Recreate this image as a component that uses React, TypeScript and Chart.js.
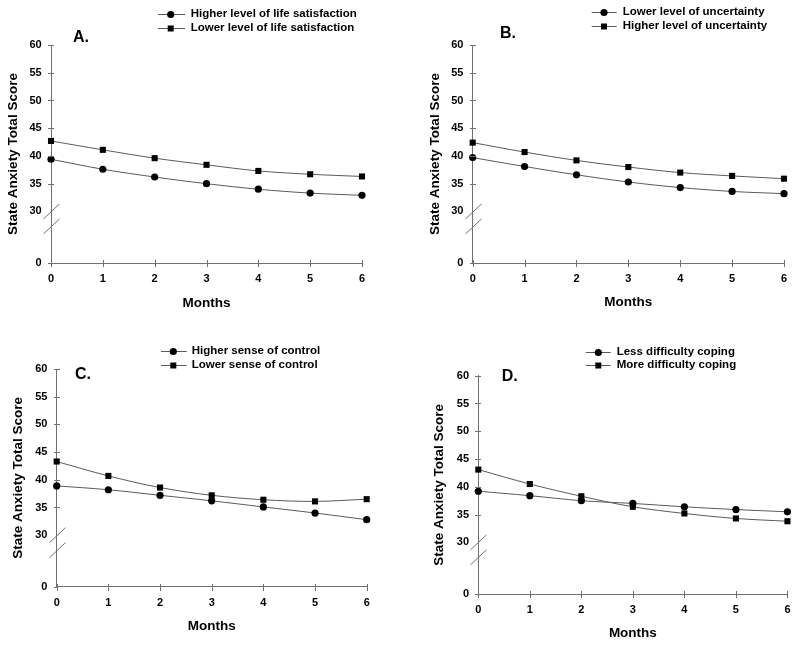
import React, { useEffect, useRef } from 'react';
import { Chart, registerables } from 'chart.js';

Chart.register(...registerables);

// ---------- data ----------
const months = ['0', '1', '2', '3', '4', '5', '6'];
const yTickLabels = [0, 30, 35, 40, 45, 50, 55, 60];
const yTitle = 'State Anxiety Total Score';
const xTitle = 'Months';
const panelLetters = ['A.', 'B.', 'C.', 'D.'];

const lifeSatHigher = [39.4, 37.6, 36.2, 35.0, 34.0, 33.3, 32.9];
const lifeSatLower = [42.7, 41.1, 39.6, 38.4, 37.3, 36.7, 36.3];
const uncertLower = [39.7, 38.1, 36.6, 35.3, 34.3, 33.6, 33.2];
const uncertHigher = [42.4, 40.7, 39.2, 38.0, 37.0, 36.4, 35.9];
const controlHigher = [38.9, 38.2, 37.2, 36.2, 35.1, 34.0, 32.8];
const controlLower = [43.3, 40.7, 38.6, 37.2, 36.4, 36.1, 36.5];
const copingLess = [39.2, 38.4, 37.5, 37.0, 36.4, 35.9, 35.5];
const copingMore = [43.1, 40.5, 38.3, 36.4, 35.2, 34.3, 33.8];

const legendA = ['Higher level of life satisfaction', 'Lower level of life satisfaction'];
const legendB = ['Lower level of uncertainty', 'Higher level of uncertainty'];
const legendC = ['Higher sense of control', 'Lower sense of control'];
const legendD = ['Less difficulty coping', 'More difficulty coping'];

// ---------- styling / layout ----------
const FONT = '"Liberation Sans", Arial, Helvetica, sans-serif';
const AXIS_FLOOR = 20.7; // axis position used for the "0" tick below the break
const BREAK_VALUE = 30;
const BREAK_GAP = 15;
const AXIS_COLOR = '#707070';
const LINE_COLOR = '#5a5a5a';

type Layout = {
  left: number; top: number; w: number; h: number;
  padL: number; padR: number; padT: number; padB: number;
  yW: number; xH: number;
  rows: number[]; lineX: [number, number]; markX: number; textX: number;
  letterX: number; letterY: number;
};

const layouts: Layout[] = [
  { left: 0, top: 0, w: 400, h: 320, padL: 5.2, padR: 38, padT: 45, padB: 8.9, yW: 45.8, xH: 48.1,
    rows: [14, 28], lineX: [158, 185], markX: 170.7, textX: 190.7, letterX: 73, letterY: 38 },
  { left: 400, top: 0, w: 400, h: 320, padL: 26.9, padR: 16, padT: 45, padB: 9.2, yW: 45.8, xH: 47.8,
    rows: [11.7, 25.7], lineX: [191.7, 216.7], markX: 204, textX: 222.7, letterX: 100, letterY: 34 },
  { left: 0, top: 320, w: 400, h: 326, padL: 10.2, padR: 33.3, padT: 49, padB: 11.9, yW: 46.5, xH: 47.4,
    rows: [30.7, 44.7], lineX: [161, 186.7], markX: 173.3, textX: 191.7, letterX: 75, letterY: 55 },
  { left: 400, top: 320, w: 400, h: 326, padL: 31.2, padR: 11, padT: 55.7, padB: 4.6, yW: 47.1, xH: 47.4,
    rows: [31.7, 45], lineX: [185.7, 210.7], markX: 198.3, textX: 216.7, letterX: 101.7, letterY: 56.7 },
];

type PanelDef = { letter: string; labels: string[]; series: number[][] };
const panels: PanelDef[] = [
  { letter: panelLetters[0], labels: legendA, series: [lifeSatHigher, lifeSatLower] },
  { letter: panelLetters[1], labels: legendB, series: [uncertLower, uncertHigher] },
  { letter: panelLetters[2], labels: legendC, series: [controlHigher, controlLower] },
  { letter: panelLetters[3], labels: legendD, series: [copingLess, copingMore] },
];

const pointStyles = ['circle', 'rect'];
const pointRadii = [3.6, 4.3];

function drawMarker(ctx: CanvasRenderingContext2D, style: string, x: number, y: number) {
  ctx.fillStyle = '#000';
  ctx.beginPath();
  if (style === 'circle') {
    ctx.arc(x, y, 3.6, 0, Math.PI * 2);
  } else {
    ctx.rect(x - 3, y - 3, 6, 6);
  }
  ctx.fill();
}

function makeDecor(panel: PanelDef, lay: Layout) {
  return {
    id: 'decor',
    afterDraw(chart: any) {
      const ctx: CanvasRenderingContext2D = chart.ctx;
      const xs = chart.scales.x;
      const ys = chart.scales.y;
      const ax = Math.round(xs.left) + 0.5;
      const ay = Math.round(ys.bottom) + 0.5;
      ctx.save();
      ctx.strokeStyle = AXIS_COLOR;
      ctx.lineWidth = 1;
      // y tick marks (crossing)
      ys.ticks.forEach((t: any) => {
        if (t.value === BREAK_VALUE) return;
        const py = Math.round(ys.getPixelForValue(t.value)) + 0.5;
        ctx.beginPath();
        ctx.moveTo(ax - 3.5, py);
        ctx.lineTo(t.value === AXIS_FLOOR ? ax : ax + 2.5, py);
        ctx.stroke();
      });
      // x tick marks (crossing)
      xs.ticks.forEach((_t: any, i: number) => {
        const px = Math.round(xs.getPixelForTick(i)) + 0.5;
        ctx.beginPath();
        ctx.moveTo(px, ay - 3.5);
        ctx.lineTo(px, ay + 3.5);
        ctx.stroke();
      });
      // axis break slashes
      const y30 = ys.getPixelForValue(BREAK_VALUE);
      [y30, y30 + BREAK_GAP].forEach((cy) => {
        ctx.beginPath();
        ctx.moveTo(ax - 8, cy + 7.5);
        ctx.lineTo(ax + 8, cy - 7.5);
        ctx.stroke();
      });
      // legend
      chart.data.datasets.forEach((ds: any, i: number) => {
        const y = lay.rows[i];
        ctx.strokeStyle = LINE_COLOR;
        ctx.beginPath();
        ctx.moveTo(lay.lineX[0], Math.round(y) + 0.5);
        ctx.lineTo(lay.lineX[1], Math.round(y) + 0.5);
        ctx.stroke();
        drawMarker(ctx, ds.pointStyle, lay.markX, Math.round(y) + 0.5);
        ctx.fillStyle = '#000';
        ctx.font = `bold 11.5px ${FONT}`;
        ctx.textAlign = 'left';
        ctx.textBaseline = 'middle';
        ctx.fillText(ds.label, lay.textX, y);
      });
      // panel letter
      ctx.fillStyle = '#000';
      ctx.font = `bold 16px ${FONT}`;
      ctx.textAlign = 'left';
      ctx.textBaseline = 'middle';
      ctx.fillText(panel.letter, lay.letterX, lay.letterY);
      ctx.restore();
    },
  };
}

function PanelChart({ panel, lay }: { panel: PanelDef; lay: Layout }) {
  const ref = useRef<HTMLCanvasElement | null>(null);
  useEffect(() => {
    if (!ref.current) return;
    const chart = new Chart(ref.current, {
      type: 'line',
      data: {
        labels: months,
        datasets: panel.series.map((s, i) => ({
          label: panel.labels[i],
          data: s,
          borderColor: LINE_COLOR,
          borderWidth: 1,
          backgroundColor: '#000',
          pointBackgroundColor: '#000',
          pointBorderColor: '#000',
          pointBorderWidth: 0,
          pointStyle: pointStyles[i] as any,
          pointRadius: pointRadii[i],
          tension: 0.35,
          fill: false,
          clip: false as any,
        })),
      },
      options: {
        responsive: false,
        animation: false,
        events: [],
        layout: { padding: { left: lay.padL, right: lay.padR, top: lay.padT, bottom: lay.padB } },
        plugins: { legend: { display: false }, tooltip: { enabled: false }, title: { display: false } },
        scales: {
          x: {
            type: 'category',
            offset: false,
            grid: { display: false, drawTicks: false },
            border: { display: true, color: AXIS_COLOR, width: 1 },
            ticks: {
              color: '#000',
              font: { family: FONT, size: 11, weight: 'bold', lineHeight: 1.2 },
              padding: 9.5,
              maxRotation: 0,
              autoSkip: false,
            },
            title: {
              display: true,
              text: xTitle,
              color: '#000',
              font: { family: FONT, size: 13.5, weight: 'bold', lineHeight: 1.2 },
              padding: 0,
            },
            afterFit: (scale: any) => { scale.height = lay.xH; },
          },
          y: {
            type: 'linear',
            min: AXIS_FLOOR,
            max: 60,
            grid: { display: false, drawTicks: false },
            border: { display: true, color: AXIS_COLOR, width: 1 },
            afterBuildTicks: (scale: any) => {
              scale.ticks = yTickLabels.map((v) => ({ value: v === 0 ? AXIS_FLOOR : v }));
            },
            ticks: {
              color: '#000',
              font: { family: FONT, size: 11, weight: 'bold', lineHeight: 1.2 },
              padding: 9.3,
              callback: (value: any) => (value < BREAK_VALUE ? '0' : String(value)),
            },
            title: {
              display: true,
              text: yTitle,
              color: '#000',
              font: { family: FONT, size: 13.5, weight: 'bold', lineHeight: 1.2 },
              padding: 0,
            },
            afterFit: (scale: any) => { scale.width = lay.yW; },
          },
        },
      },
      plugins: [makeDecor(panel, lay)],
    } as any);
    return () => chart.destroy();
  }, [panel, lay]);
  return (
    <canvas
      ref={ref}
      width={lay.w}
      height={lay.h}
      style={{ position: 'absolute', left: lay.left, top: lay.top, width: lay.w, height: lay.h, display: 'block' }}
    />
  );
}

export default function App() {
  return (
    <div style={{ position: 'absolute', left: 0, top: 0, width: 800, height: 646, background: '#fff', overflow: 'hidden' }}>
      {panels.map((p, i) => (
        <PanelChart key={i} panel={p} lay={layouts[i]} />
      ))}
    </div>
  );
}
